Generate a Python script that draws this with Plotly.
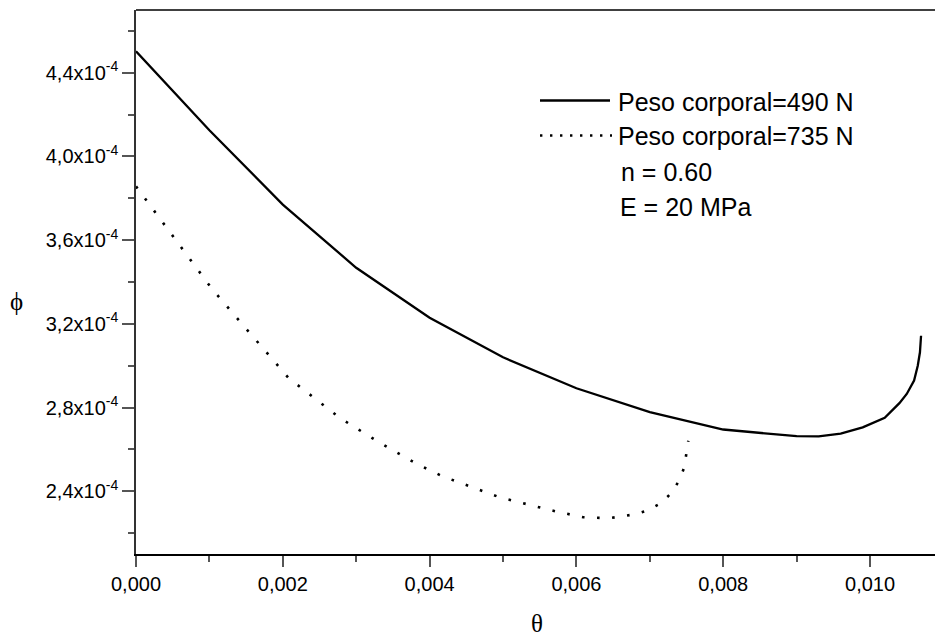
import plotly.graph_objects as go

# Data (theta, phi in units of 1e-4)
theta_490 = [0.0, 0.001, 0.002, 0.003, 0.004, 0.005, 0.006, 0.007, 0.008,
             0.0085, 0.009, 0.0093, 0.0096, 0.0099, 0.0102, 0.0104, 0.0105,
             0.0106, 0.01065, 0.01068, 0.010695]
phi_490 = [4.503, 4.125, 3.770, 3.468, 3.229, 3.040, 2.892, 2.778, 2.695,
           2.679, 2.663, 2.662, 2.675, 2.705, 2.751, 2.821, 2.865,
           2.929, 3.000, 3.064, 3.143]

theta_735 = [0.0, 0.000136, 0.000526, 0.00104, 0.001485, 0.002079, 0.002783,
             0.003305, 0.003828, 0.004177, 0.004963, 0.005736, 0.006094,
             0.006439, 0.006789, 0.006966, 0.007143, 0.007302, 0.007411,
             0.00747, 0.007524]
phi_735 = [3.857, 3.792, 3.608, 3.365, 3.183, 2.941, 2.749,
           2.635, 2.530, 2.471, 2.370, 2.302, 2.276,
           2.271, 2.289, 2.308, 2.341, 2.394, 2.459,
           2.516, 2.641]

legend_labels = ["Peso corporal=490 N", "Peso corporal=735 N"]
info_labels = ["n = 0.60", "E = 20 MPa"]

x_ticks = [0.0, 0.002, 0.004, 0.006, 0.008, 0.010]
x_ticktext = ["0,000", "0,002", "0,004", "0,006", "0,008", "0,010"]
x_minor = [0.001, 0.003, 0.005, 0.007, 0.009]
y_ticks = [2.4, 2.8, 3.2, 3.6, 4.0, 4.4]
y_ticktext = ["2,4x10<sup>-4</sup>", "2,8x10<sup>-4</sup>", "3,2x10<sup>-4</sup>",
              "3,6x10<sup>-4</sup>", "4,0x10<sup>-4</sup>", "4,4x10<sup>-4</sup>"]
y_minor = [2.2, 2.6, 3.0, 3.4, 3.8, 4.2, 4.6]

scale = 1e-4
fig = go.Figure()
fig.add_trace(go.Scatter(x=theta_490, y=[v * scale for v in phi_490], mode="lines",
                         line=dict(color="black", width=2.3), name=legend_labels[0],
                         showlegend=False))
fig.add_trace(go.Scatter(x=theta_735, y=[v * scale for v in phi_735], mode="lines",
                         line=dict(color="black", width=2.6, dash="2.6px,12.5px"),
                         name=legend_labels[1], showlegend=False))

W, H = 935, 637
L, T, B = 136, 10, 83
pw, ph = W - L, H - T - B

def px(x):
    return (x - L) / pw

def py(y):
    return (H - B - y) / ph

shapes = [
    dict(type="line", xref="paper", yref="paper", x0=0, x1=1, y0=1, y1=1,
         line=dict(color="black", width=1.5)),
    dict(type="line", xref="paper", yref="paper", x0=px(540), x1=px(610),
         y0=py(100.5), y1=py(100.5), line=dict(color="black", width=2.3)),
    dict(type="line", xref="paper", yref="paper", x0=px(540), x1=px(612),
         y0=py(135.5), y1=py(135.5), line=dict(color="black", width=2.4, dash="2.4px,7.6px")),
]

font_leg = dict(family="Liberation Sans, Arial, sans-serif", size=25, color="black")
annotations = [
    dict(text=legend_labels[0], x=px(616), y=py(101.5), xref="paper", yref="paper",
         xanchor="left", yanchor="middle", showarrow=False, font=font_leg),
    dict(text=legend_labels[1], x=px(616), y=py(136), xref="paper", yref="paper",
         xanchor="left", yanchor="middle", showarrow=False, font=font_leg),
    dict(text=info_labels[0], x=px(619), y=py(171.5), xref="paper", yref="paper",
         xanchor="left", yanchor="middle", showarrow=False, font=font_leg),
    dict(text=info_labels[1], x=px(618), y=py(206.5), xref="paper", yref="paper",
         xanchor="left", yanchor="middle", showarrow=False, font=font_leg),
    dict(text="θ", x=px(537), y=py(637), xref="paper", yref="paper",
         xanchor="center", yanchor="bottom", showarrow=False, yshift=-2,
         font=dict(family="Liberation Serif, Times New Roman, serif", size=25, color="black")),
    dict(text="ϕ", x=px(16.7), y=py(301), xref="paper", yref="paper",
         xanchor="center", yanchor="middle", showarrow=False,
         font=dict(family="Liberation Serif, Times New Roman, serif", size=25, color="black")),
]

tick_font = dict(family="Liberation Sans, Arial, sans-serif", size=20, color="black")
fig.update_layout(
    width=W, height=H,
    margin=dict(l=L, r=0, t=T, b=B, pad=0),
    paper_bgcolor="white", plot_bgcolor="white",
    shapes=shapes, annotations=annotations,
    xaxis=dict(range=[0, 0.010885], tickmode="array", tickvals=x_ticks, ticktext=x_ticktext,
               ticks="outside", ticklen=11, tickwidth=1.5, tickcolor="#555",
               showline=True, linecolor="black", linewidth=1.5, showgrid=False, zeroline=False,
               tickfont=tick_font,
               minor=dict(tickmode="array", tickvals=x_minor, ticks="outside", ticklen=6,
                          tickwidth=1.5, tickcolor="#555", showgrid=False)),
    yaxis=dict(range=[2.1e-4, 4.7e-4], tickmode="array",
               tickvals=[v * scale for v in y_ticks], ticktext=y_ticktext,
               ticks="outside", ticklen=12, tickwidth=1.5, tickcolor="#555",
               showline=True, linecolor="#333", linewidth=1.5, showgrid=False, zeroline=False,
               tickfont=tick_font,
               minor=dict(tickmode="array", tickvals=[v * scale for v in y_minor], ticks="outside",
                          ticklen=6, tickwidth=1.5, tickcolor="#555", showgrid=False)),
)

fig.write_html("out.html")
